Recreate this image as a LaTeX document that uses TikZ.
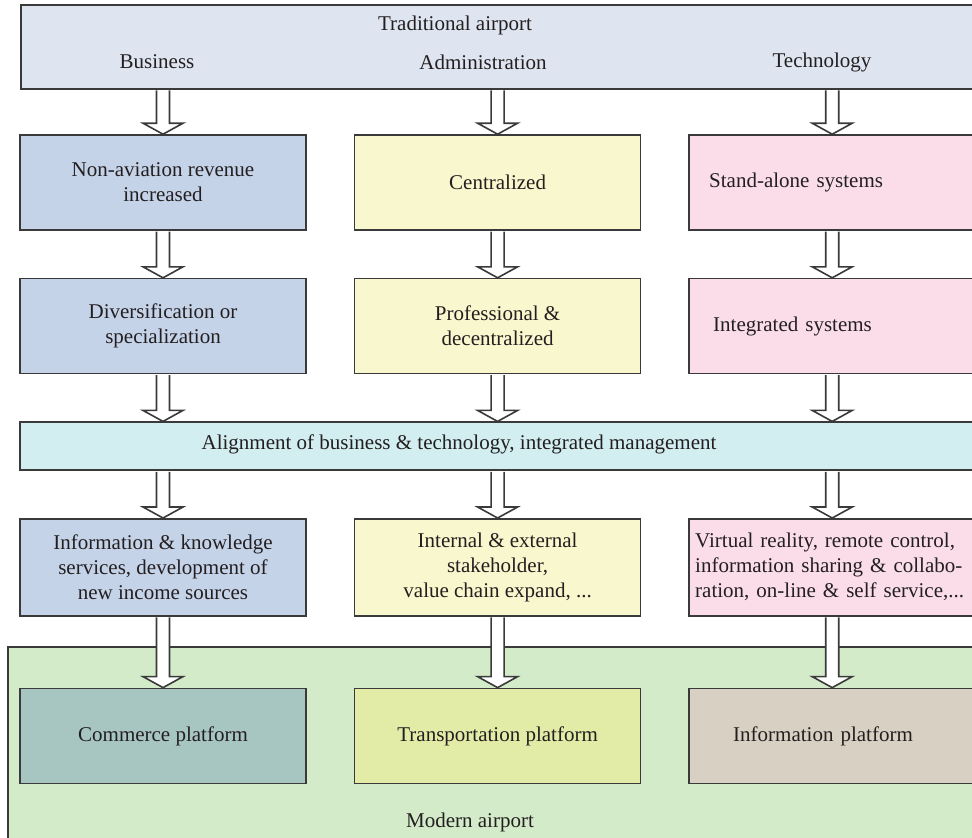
\documentclass[tikz,border=0pt]{standalone}
\usepackage{fontspec}
\setmainfont{Liberation Serif}
\usetikzlibrary{positioning,calc}

\definecolor{linegray}{HTML}{3A3A3A}
\definecolor{inkgray}{HTML}{231F20}
\definecolor{topfill}{HTML}{DEE5F0}
\definecolor{bizfill}{HTML}{C5D3E9}
\definecolor{admfill}{HTML}{F9F7CD}
\definecolor{techfill}{HTML}{FADDE9}
\definecolor{alignfill}{HTML}{D2EEF1}
\definecolor{greenfill}{HTML}{D3EBC9}
\definecolor{commfill}{HTML}{A7C6C2}
\definecolor{tranfill}{HTML}{E3ECA6}
\definecolor{infofill}{HTML}{D9D0C4}

% hollow block arrow, x taken from #1, running from y of #1 to y of #2
\newcommand{\hollowarrow}[2]{%
  \draw[fatarrow] let \p1=(#1), \p2=(#2) in
    (\x1-3.25pt,\y1-0.4pt) -- (\x1-3.25pt,\y2+5.5pt) -- (\x1-10pt,\y2+5.5pt)
    -- (\x1,\y2) -- (\x1+10pt,\y2+5.5pt) -- (\x1+3.25pt,\y2+5.5pt)
    -- (\x1+3.25pt,\y1-0.4pt);}

\begin{document}
\begin{tikzpicture}[x=0.5pt,y=-0.5pt,node distance=23.5pt,
  every node/.style={font=\fontsize{10.5}{12.5}\selectfont, text=inkgray},
  box/.style={draw=linegray, line width=0.8pt, minimum width=143pt,
    minimum height=47.5pt, inner sep=2pt, align=center},
  techbox/.style 2 args={box, align=left, inner xsep=#1, text width=#2},
  fatarrow/.style={draw=linegray, line width=0.8pt, fill=white}]
  \useasboundingbox (0,0) rectangle (972,837);
  \clip (0,0) rectangle (972,837);

  % traditional airport
  \node[box, fill=topfill, minimum width=490pt, minimum height=42pt,
    anchor=north west] (top) at (20,4) {};
  \node (trad) at (455,25) {Traditional airport};
  \node (busi) at (157,62) {Business};
  \node (admi) at (483,62) {Administration};
  \node (tech) at (822,62) {Technology};

  % first two rows
  \node[box, fill=bizfill] (c1r1) at (163,182.5) {Non-aviation revenue\\increased};
  \node[box, fill=admfill, right=of c1r1] (c2r1) {Centralized};
  \node[techbox={10pt}{123pt}, fill=techfill, right=of c2r1] (c3r1) {Stand-alone systems};
  \node[box, fill=bizfill, below=of c1r1] (c1r2) {Diversification or\\specialization};
  \node[box, fill=admfill, right=of c1r2] (c2r2) {Professional \&\\decentralized};
  \node[techbox={12pt}{119pt}, fill=techfill, right=of c2r2] (c3r2) {Integrated systems};

  % alignment
  \node[box, fill=alignfill, minimum width=490pt, minimum height=24pt,
    anchor=north west] (align) at ([yshift=-23.5pt]c1r2.south west) {};
  \node (alignlbl) at (459,444) {Alignment of business \& technology, integrated management};

  \coordinate (r3top) at (c1r2 |- align.south);
  \node[box, fill=bizfill, minimum height=48.5pt, below=of r3top] (c1r3)
    {Information \& knowledge\\services, development of\\new income sources};
  \node[box, fill=admfill, minimum height=48.5pt, right=of c1r3] (c2r3)
    {Internal \& external\\stakeholder,\\value chain expand, ...};
  \node[techbox={3pt}{137pt}, fill=techfill, minimum height=48.5pt, right=of c2r3] (c3r3)
    {Virtual reality, remote control,\\information sharing \& collabo-\\ration, on-line \& self service,...};

  % modern airport
  \path[fill=greenfill, draw=linegray, line width=0.8pt] (8,647) rectangle (1000,900);
  \node (modern) at (470,822) {Modern airport};
  \node[box, fill=commfill, below=35.5pt of c1r3] (c1r4) {Commerce platform};
  \node[box, fill=tranfill, right=of c1r4] (c2r4) {Transportation platform};
  \node[techbox={22pt}{99pt}, fill=infofill, right=of c2r4] (c3r4) {Information platform};

  \foreach \col in {c1,c2,c3} {
    \hollowarrow{top.south -| \col r1}{\col r1.north}
    \hollowarrow{\col r1.south}{\col r2.north}
    \hollowarrow{\col r2.south}{align.north}
    \hollowarrow{align.south -| \col r3}{\col r3.north}
    \hollowarrow{\col r3.south}{\col r4.north}
  }
\end{tikzpicture}
\end{document}
